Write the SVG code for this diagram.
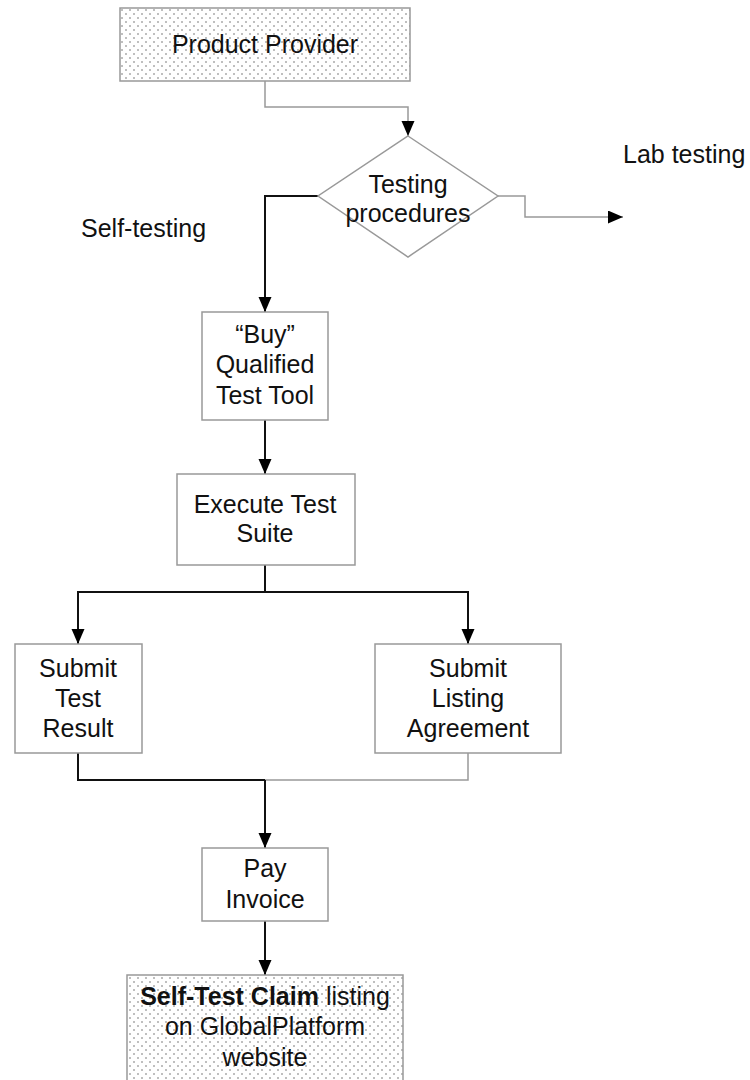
<svg xmlns="http://www.w3.org/2000/svg" width="750" height="1080" viewBox="0 0 750 1080">
<style>
  .box { fill: #fff; stroke: #999; stroke-width: 1.5; }
  .dotted { fill: url(#dots); stroke: #999; stroke-width: 1.5; }
  .t { font-family: "Liberation Sans", Arial, sans-serif; font-size: 25px; fill: #111; text-anchor: middle; }
  .lbl { font-family: "Liberation Sans", Arial, sans-serif; font-size: 25px; fill: #111; }
  .c-dark { fill: none; stroke: #111; stroke-width: 2; }
  .c-gray { fill: none; stroke: #999; stroke-width: 1.5; }
</style>
<defs>
  <pattern id="dots" width="8" height="8" patternUnits="userSpaceOnUse">
    <rect width="8" height="8" fill="#fff"/>
    <circle cx="2" cy="2" r="1" fill="#aaa"/>
    <circle cx="6" cy="6" r="1" fill="#aaa"/>
  </pattern>
  <marker id="arrow" markerUnits="userSpaceOnUse" markerWidth="16" markerHeight="14" refX="15" refY="6.5" orient="auto">
    <path d="M0,0 L15,6.5 L0,13 z" fill="#000"/>
  </marker>
</defs>
<rect width="750" height="1080" fill="#fff"/>

<g id="connectors">
  <path class="c-gray" d="M265,81 V107 H408 V136" marker-end="url(#arrow)"/>
  <path class="c-dark" d="M318,196 H265 V312" marker-end="url(#arrow)"/>
  <path class="c-gray" d="M498,196 H525 V217 H623" marker-end="url(#arrow)"/>
  <path class="c-dark" d="M265,420 V474" marker-end="url(#arrow)"/>
  <path class="c-dark" d="M265,565 V592 H78 V644" marker-end="url(#arrow)"/>
  <path class="c-dark" d="M265,592 H468 V644" marker-end="url(#arrow)"/>
  <path class="c-gray" d="M468,753 V780 H265"/>
  <path class="c-dark" d="M78,753 V780 H265"/>
  <path class="c-dark" d="M265,780 V848" marker-end="url(#arrow)"/>
  <path class="c-dark" d="M265,921 V975" marker-end="url(#arrow)"/>
</g>

<g id="product-provider">
  <rect class="dotted" x="120" y="8" width="290" height="73"/>
  <text class="t" x="265" y="53">Product Provider</text>
</g>

<g id="testing-procedures">
  <polygon class="box" points="408,136 498,196 408,257 318,196"/>
  <text class="t" x="408" y="193">Testing</text>
  <text class="t" x="408" y="222">procedures</text>
</g>

<g id="label-lab-testing">
  <text class="lbl" x="623" y="163">Lab testing</text>
</g>
<g id="label-self-testing">
  <text class="lbl" x="81" y="237">Self-testing</text>
</g>

<g id="buy-tool">
  <rect class="box" x="202" y="312" width="126" height="108"/>
  <text class="t" x="265" y="343">“Buy”</text>
  <text class="t" x="265" y="373">Qualified</text>
  <text class="t" x="265" y="404">Test Tool</text>
</g>

<g id="execute-suite">
  <rect class="box" x="177" y="474" width="178" height="91"/>
  <text class="t" x="265" y="513">Execute Test</text>
  <text class="t" x="265" y="542">Suite</text>
</g>

<g id="submit-result">
  <rect class="box" x="15" y="644" width="127" height="109"/>
  <text class="t" x="78" y="677">Submit</text>
  <text class="t" x="78" y="707">Test</text>
  <text class="t" x="78" y="737">Result</text>
</g>

<g id="submit-agreement">
  <rect class="box" x="375" y="644" width="186" height="109"/>
  <text class="t" x="468" y="677">Submit</text>
  <text class="t" x="468" y="707">Listing</text>
  <text class="t" x="468" y="737">Agreement</text>
</g>

<g id="pay-invoice">
  <rect class="box" x="202" y="848" width="126" height="73"/>
  <text class="t" x="265" y="877">Pay</text>
  <text class="t" x="265" y="908">Invoice</text>
</g>

<g id="self-test-claim">
  <rect class="dotted" x="127" y="975" width="276" height="112"/>
  <text class="t" x="265" y="1005"><tspan font-weight="bold">Self-Test Claim</tspan> listing</text>
  <text class="t" x="265" y="1035">on GlobalPlatform</text>
  <text class="t" x="265" y="1066">website</text>
</g>
</svg>
